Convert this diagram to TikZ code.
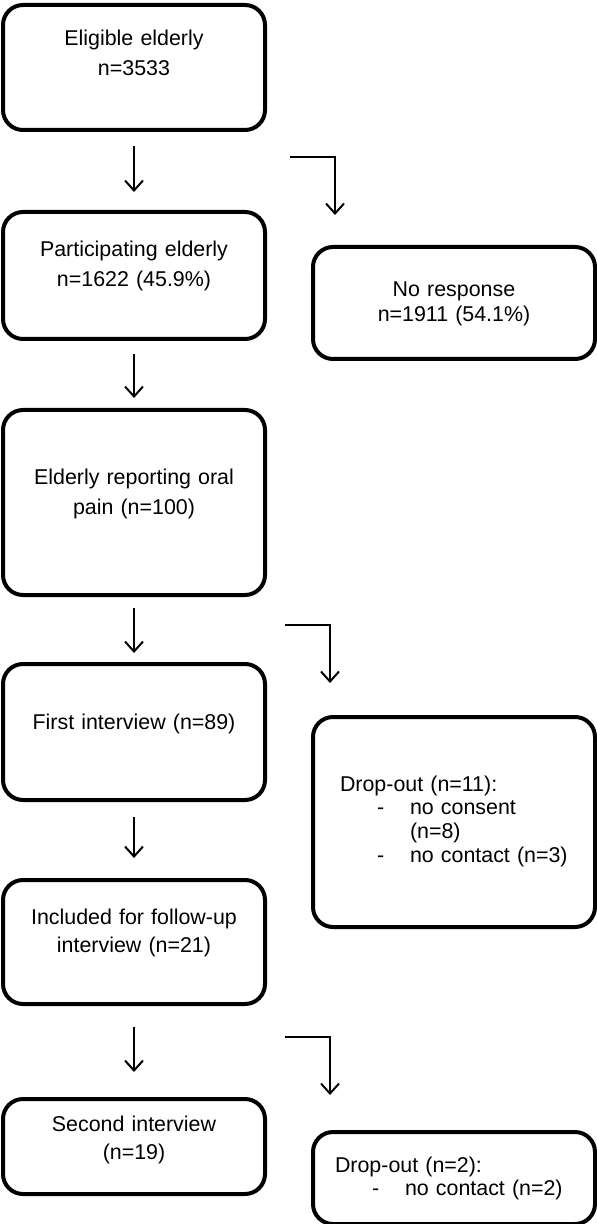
\documentclass[tikz,border=0pt]{standalone}
\usepackage{fontspec}
\setmainfont{Liberation Sans}
\usetikzlibrary{arrows.meta, calc, positioning}
\newcommand{\dropitem}[1]{\hspace*{18.5pt}\makebox[16.5pt][l]{-}#1}
\tikzset{
	px/.style={x=0.5pt,y=-0.5pt},
	stage/.style={
		draw=black, line width=2pt, rounded corners=10pt,
		inner xsep=5.5pt, inner ysep=0pt,
		text width=120pt, align=center, anchor=north,
		font=\fontsize{10.7}{15}\selectfont
	},
	side/.style={stage, text width=130pt, font=\fontsize{10.7}{12.5}\selectfont},
	dropbox/.style={stage, align=left, font=\fontsize{10.7}{11.9}\selectfont},
	flow/.style={-{Straight Barb[length=5pt,width=9pt]}, line width=1pt},
}

\begin{document}
\begin{tikzpicture}[px]
	\useasboundingbox (0,0) rectangle (597,1224);

	% main column
	\node[stage, text height=20.5pt, text depth=42pt]	(elig)		at (134,3)		{Eligible elderly\\n=3533};
	\node[stage, text height=22.5pt, text depth=41pt]	(part)		at (134,210)	{Participating elderly\\n=1622 (45.9\%)};
	\node[stage, text height=37pt, text depth=55.5pt]	(pain)		at (134,408)	{Elderly reporting oral\\pain (n=100)};
	\node[stage, text height=32.5pt, text depth=35.5pt]	(first)		at (134,662)	{First interview (n=89)};
	\node[stage, text height=22pt, text depth=40pt, font=\fontsize{10.7}{14}\selectfont]	(incl)	at (134,878)	{Included for follow-up\\interview (n=21)};
	\node[stage, text height=16pt, text depth=31.5pt, font=\fontsize{10.7}{14}\selectfont]	(second)	at (134,1097)	{Second interview\\(n=19)};

	% exclusions
	\node[side, text height=25pt, text depth=31pt]	(noresp)	at (454,245)	{No response\\n=1911 (54.1\%)};
	\node[dropbox, inner xsep=13.5pt, text width=114pt, text height=37pt, text depth=68pt]	(drop1)	at (454,715)
		{Drop-out (n=11):\\\dropitem{no consent}\\\hspace*{35pt}(n=8)\\\dropitem{no contact (n=3)}};
	\node[dropbox, inner xsep=11pt, text width=119pt, text height=20pt, text depth=26pt]	(drop2)	at (454,1130)
		{Drop-out (n=2):\\\dropitem{no contact (n=2)}};

	\draw[flow, shorten <=7pt, shorten >=9pt]		(elig.south)	--	(part.north);
	\draw[flow, shorten <=6.5pt, shorten >=5pt]	(part.south)	--	(pain.north);
	\draw[flow, shorten <=5.5pt, shorten >=4.5pt]	(pain.south)	--	(first.north);
	\draw[flow, shorten <=7.5pt, shorten >=10pt]	(first.south)	--	(incl.north);
	\draw[flow, shorten <=10.5pt, shorten >=12.5pt]	(incl.south)	--	(second.north);

	\coordinate	(out1)	at (290,157);
	\coordinate	(out2)	at (285,625);
	\coordinate	(out3)	at (285,1037);
	\draw[flow, shorten >=15pt]		(out1)	-|	([xshift=12pt]noresp.north west);
	\draw[flow, shorten >=16pt]		(out2)	-|	([xshift=9.5pt]drop1.north west);
	\draw[flow, shorten >=17.5pt]	(out3)	-|	([xshift=9.5pt]drop2.north west);
\end{tikzpicture}
\end{document}
